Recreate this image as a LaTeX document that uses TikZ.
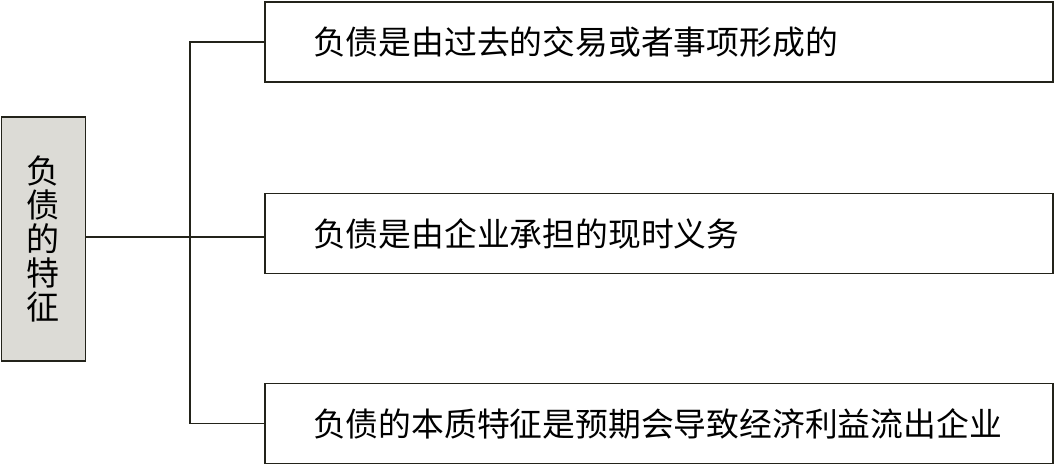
\documentclass[tikz,border=0pt]{standalone}
\usepackage{fontspec}
\newfontfamily\cjk{Noto Sans CJK SC}
\definecolor{linecol}{HTML}{23231A}
\definecolor{boxfill}{HTML}{DCDBD6}
\tikzset{
  itembox/.style={draw=linecol, line width=1.8pt, minimum width=788pt, minimum height=80pt,
    text width=692pt, inner xsep=0pt, align=left, font=\cjk\fontsize{32.8}{36}\selectfont},
  headbox/.style={draw=linecol, fill=boxfill, line width=1.8pt, minimum width=84pt,
    minimum height=244pt, align=center, font=\cjk\fontsize{33}{34}\selectfont},
  link/.style={draw=linecol, line width=1.8pt}
}
\begin{document}
\begin{tikzpicture}[x=1pt,y=-1pt]
    \useasboundingbox (0,0) rectangle (1056,464);
    \node[headbox] (feature) at (43.5,239) {负\\债\\的\\特\\征};
    \node[itembox] (item1) at (659,42) {负债是由过去的交易或者事项形成的};
    \node[itembox] (item2) at (659,233.5) {负债是由企业承担的现时义务};
    \node[itembox] (item3) at (659,423.5) {负债的本质特征是预期会导致经济利益流出企业};
    \coordinate (fork) at (190,237);
    \draw[link] (feature.east |- fork) -- (fork) -- (fork -| item2.west);
    \foreach \i in {1,3}
    \draw[link] (item\i.west) -| (fork);
  \end{tikzpicture}
\end{document}
